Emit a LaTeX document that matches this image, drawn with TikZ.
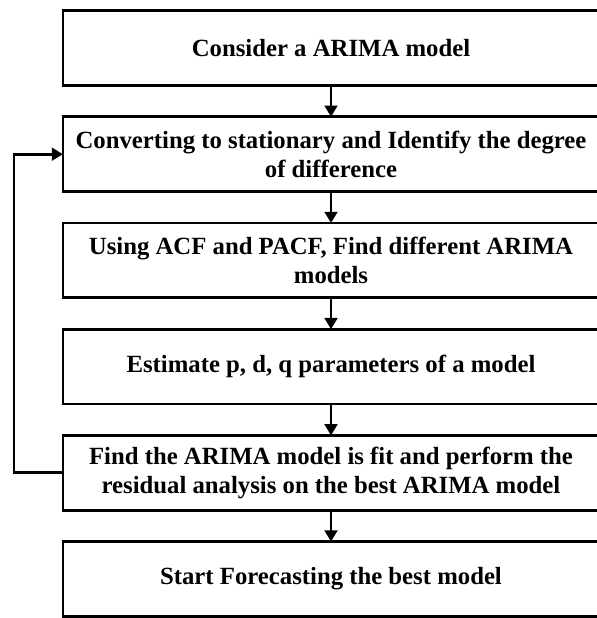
\documentclass[tikz,border=0pt]{standalone}
\usepackage{fontspec}
\setmainfont{Liberation Serif}
\usepackage{tikz}
\usetikzlibrary{positioning,arrows.meta}

\begin{document}
\begin{tikzpicture}[node distance=0.785cm,
    etape/.style={draw, line width=2pt, outer sep=0pt, minimum width=13.4cm, minimum height=1.87cm, align=center, font=\fontsize{17.6}{20.6}\selectfont\bfseries},
    fleche/.style={-{Triangle[length=8pt,width=9pt]}, line width=2pt}]
        \useasboundingbox (0,0) rectangle (14.9,-15.45);
        % Boîtes (empilées verticalement)
        \node[etape] (e1) at (8.275,-1.2) {Consider a ARIMA model};
        \node[etape, below=of e1] (e2) {Converting to stationary and Identify the degree\\of difference};
        \node[etape, below=of e2] (e3) {Using ACF and PACF, Find different ARIMA\\models};
        \node[etape, below=of e3] (e4) {Estimate p, d, q parameters of a model};
        \node[etape, below=of e4] (e5) {Find the ARIMA model is fit and perform the\\residual analysis on the best ARIMA model};
        \node[etape, below=of e5] (e6) {Start Forecasting the best model};

        % Flèches entre les étapes
        \draw[fleche] (e1) -- (e2);
        \draw[fleche] (e2) -- (e3);
        \draw[fleche] (e3) -- (e4);
        \draw[fleche] (e4) -- (e5);
        \draw[fleche] (e5) -- (e6);

        % Retour (boucle à gauche)
        \draw[fleche] (e5.west) -- ++(-1.225,0) |- (e2.west);
    \end{tikzpicture}
\end{document}
